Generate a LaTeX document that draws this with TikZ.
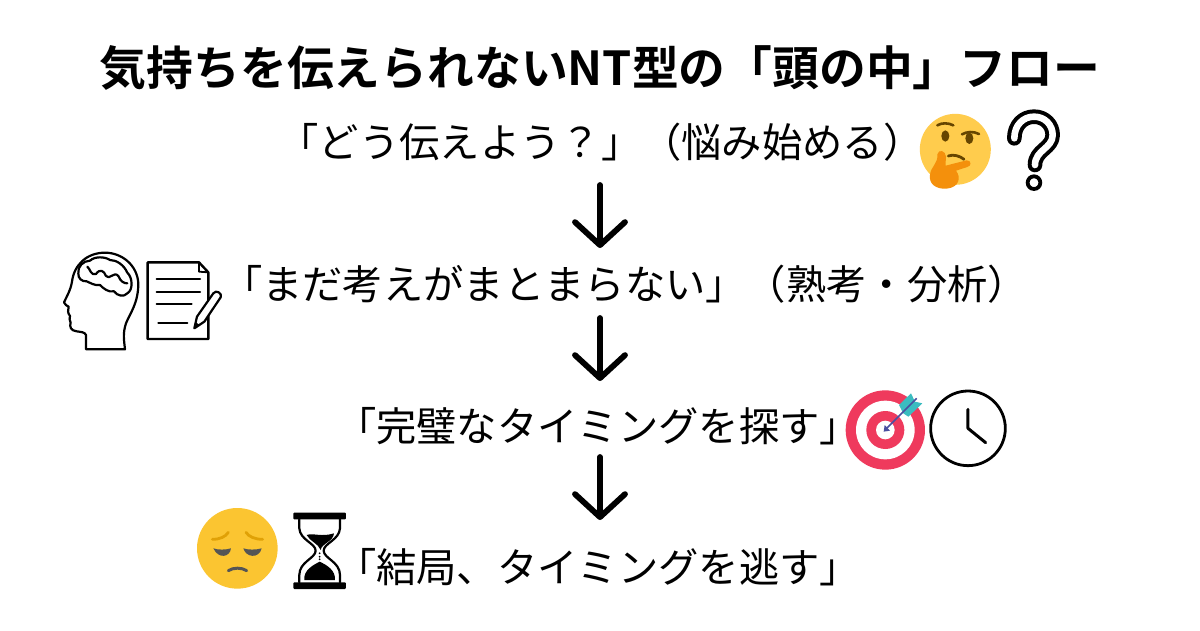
\documentclass[tikz,border=0pt]{standalone}
\usepackage{fontspec}
\setmainfont{Noto Sans CJK JP}[BoldFont={Noto Sans CJK JP Bold}]
\usetikzlibrary{arrows.meta}
\definecolor{emojiY}{HTML}{FFCC4D}
\definecolor{emojiB}{HTML}{664500}
\definecolor{emojiO}{HTML}{F4900C}
\definecolor{targetR}{HTML}{EF3A5D}
\definecolor{arrowB}{HTML}{4A4FA0}
\definecolor{arrowT}{HTML}{3BBCC0}
\definecolor{pensY}{HTML}{FBC531}
\definecolor{pensB}{HTML}{E0A106}
\definecolor{pensG}{HTML}{555555}
\tikzset{
  titletext/.style={font=\fontsize{46.8pt}{50pt}\selectfont\bfseries,inner sep=0pt},
  flowtext/.style={font=\fontsize{40.3pt}{44pt}\selectfont,inner sep=0pt},
  flowarrow/.style={line width=5.8pt,line cap=round,-{Straight Barb[round,length=23pt,width=50pt,line width=5.8pt]}},
  zoomed/.style={x=0.3333pt,y=-0.3333pt},
  ink/.style={draw=black,line width=2.2pt,line join=round,line cap=round}
}
\begin{document}
\begin{tikzpicture}[x=1pt,y=-1pt]
\useasboundingbox (0,0) rectangle (1200,630);
\fill[white] (0,0) rectangle (1200,630);
\node[titletext] (title) at (600,68) {気持ちを伝えられないNT型の「頭の中」フロー};
\node[flowtext] (l1) at (601,142) {「どう伝えよう？」（悩み始める）};
\node[flowtext] (l2) at (625,284) {「まだ考えがまとまらない」（熟考・分析）};
\node[flowtext] (l3) at (598,426) {「完璧なタイミングを探す」};
\node[flowtext] (l4) at (598,567) {「結局、タイミングを逃す」};
% arrows
\coordinate (a1s) at (600,185); \coordinate (a1e) at (600,248);
\coordinate (a2s) at (600,318); \coordinate (a2e) at (600,381);
\coordinate (a3s) at (600,457); \coordinate (a3e) at (600,520);
\draw[flowarrow] (a1s) -- (a1e);
\draw[flowarrow] (a2s) -- (a2e);
\draw[flowarrow] (a3s) -- (a3e);
% thinking face
\begin{scope}[shift={(900,100)},zoomed]
\fill[emojiY] (166,148) circle[radius=106.5];
\fill[emojiB] (136,108) ellipse[x radius=12,y radius=17];
\fill[emojiB] (208,115) ellipse[x radius=12,y radius=17];
\draw[emojiB,line width=2.6pt,line cap=round] (112,76) .. controls (125,68) and (145,68) .. (160,76);
\draw[emojiB,line width=2.6pt,line cap=round] (186,103) .. controls (200,95) and (220,93) .. (237,102);
\draw[emojiB,line width=2.8pt,line cap=round] (145,168) .. controls (160,162) and (180,168) .. (192,178);
\fill[emojiO] (90,225) .. controls (92,200) and (115,190) .. (112,163) .. controls (116,146) and (137,152) .. (138,170) .. controls (139,180) and (135,188) .. (137,197) -- (200,181) .. controls (215,181) and (215,198) .. (202,201) -- (168,212) .. controls (184,232) and (178,262) .. (140,266) .. controls (108,268) and (86,252) .. (90,225) -- cycle;
\end{scope}
% question mark
\begin{scope}[shift={(900,100)},zoomed]
\path[draw=black,line width=14.6pt,line cap=round,line join=round]
 (343,115) .. controls (343,75) and (370,50) .. (402,50) .. controls (435,50) and (458,75) .. (458,105) .. controls (458,145) and (405,150) .. (405,195);
\path[draw=white,line width=6.6pt,line cap=round,line join=round]
 (343,115) .. controls (343,75) and (370,50) .. (402,50) .. controls (435,50) and (458,75) .. (458,105) .. controls (458,145) and (405,150) .. (405,195);
\draw[black,line width=3.8pt] (402,248) circle[radius=19];
\end{scope}
% head with brain
\begin{scope}[shift={(50,240)},zoomed]
\draw[ink] (108,328) -- (225,328) .. controls (222,300) and (218,280) .. (228,250) .. controls (240,220) and (265,190) .. (265,130) .. controls (262,75) and (215,38) .. (165,38) .. controls (110,38) and (72,75) .. (66,125) .. controls (62,150) and (50,170) .. (42,187) .. controls (44,195) and (52,197) .. (56,200) .. controls (54,210) and (52,218) .. (60,228) .. controls (54,235) and (62,240) .. (62,248) .. controls (58,260) and (62,272) .. (80,274) .. controls (92,276) and (105,276) .. (108,285) -- cycle;
\draw[ink] (85,100) .. controls (82,80) and (100,62) .. (120,62) .. controls (135,48) and (165,50) .. (180,60) .. controls (200,60) and (222,75) .. (232,98) .. controls (248,112) and (250,150) .. (232,160) .. controls (222,172) and (202,168) .. (192,154) .. controls (175,158) and (160,145) .. (150,135) .. controls (135,138) and (120,128) .. (110,124) .. controls (95,125) and (84,115) .. (85,100) -- cycle;
\draw[ink] (112,80) .. controls (120,85) and (122,108) .. (138,102) .. controls (150,85) and (162,92) .. (168,108) .. controls (178,122) and (192,92) .. (205,108) .. controls (212,125) and (222,130) .. (232,130);
\end{scope}
% document and pencil
\begin{scope}[shift={(50,240)},zoomed]
\draw[ink,line width=2.4pt] (293,67) -- (447,67) -- (475,97) -- (475,297) -- (293,297) -- cycle;
\draw[ink,line width=1.8pt] (447,67) -- (447,95) -- (475,97);
\draw[ink] (320,117) -- (450,117);
\draw[ink] (320,155) -- (450,155);
\draw[ink] (320,193) -- (425,193);
\draw[ink] (325,250) -- (412,250);
\draw[ink,fill=white] (433,265) -- (441,230) -- (490,160) .. controls (498,148) and (518,160) .. (512,172) -- (463,245) -- cycle;
\fill[black] (433,265) -- (437,247) -- (450,255) -- cycle;
\end{scope}
% target
\begin{scope}[shift={(835,380)},zoomed]
\fill[targetR] (151,150) circle[radius=119];
\fill[white] (151,150) circle[radius=88];
\fill[targetR] (151,150) circle[radius=57];
\fill[white] (151,150) circle[radius=28];
\fill[arrowT] (192,75) -- (228,40) -- (240,65) -- (262,70) -- (220,110) -- (205,100) -- cycle;
\draw[arrowB,line width=1.6pt] (245,55) -- (150,150);
\fill[arrowB] (146,155) -- (149,135) -- (165,152) -- cycle;
\end{scope}
% clock
\begin{scope}[shift={(835,380)},zoomed]
\draw[black,line width=2.8pt] (399,145) circle[radius=112];
\draw[black,line width=3pt,line cap=round,line join=round] (399,88) -- (399,145) -- (452,188);
\end{scope}
% pensive face
\begin{scope}[shift={(185,500)},zoomed]
\fill[pensY] (157,145) circle[radius=121];
\draw[pensB,line width=2.8pt,line cap=round] (82,118) .. controls (105,118) and (122,110) .. (130,97);
\draw[pensB,line width=2.8pt,line cap=round] (183,97) .. controls (191,110) and (210,118) .. (233,118);
\fill[pensG] (85,145) .. controls (100,150) and (120,150) .. (138,145) .. controls (135,172) and (100,178) .. (85,145) -- cycle;
\fill[pensG] (175,145) .. controls (190,150) and (212,150) .. (230,145) .. controls (222,178) and (182,172) .. (175,145) -- cycle;
\draw[pensG,line width=3pt,line cap=round] (130,212) .. controls (145,202) and (170,202) .. (185,212);
\end{scope}
% hourglass
\begin{scope}[shift={(185,500)},zoomed]
\fill[black,rounded corners=1pt] (325,38) rectangle (483,58);
\fill[black,rounded corners=1pt] (325,247) rectangle (483,267);
\draw[ink] (343,58) -- (343,85) .. controls (345,120) and (392,130) .. (392,152) .. controls (392,175) and (343,185) .. (343,225) -- (343,247);
\draw[ink] (465,58) -- (465,85) .. controls (463,120) and (416,130) .. (416,152) .. controls (416,175) and (465,185) .. (465,225) -- (465,247);
\fill[black] (365,105) .. controls (385,98) and (410,112) .. (447,100) .. controls (445,125) and (410,130) .. (407,150) .. controls (400,130) and (375,125) .. (365,105) -- cycle;
\fill[black] (358,240) .. controls (355,210) and (385,195) .. (404,185) .. controls (425,195) and (452,210) .. (450,240) -- cycle;
\fill[black] (404,160) circle[radius=3];
\fill[black] (404,170) circle[radius=3];
\fill[black] (404,178) circle[radius=3];
\end{scope}
\end{tikzpicture}
\end{document}
